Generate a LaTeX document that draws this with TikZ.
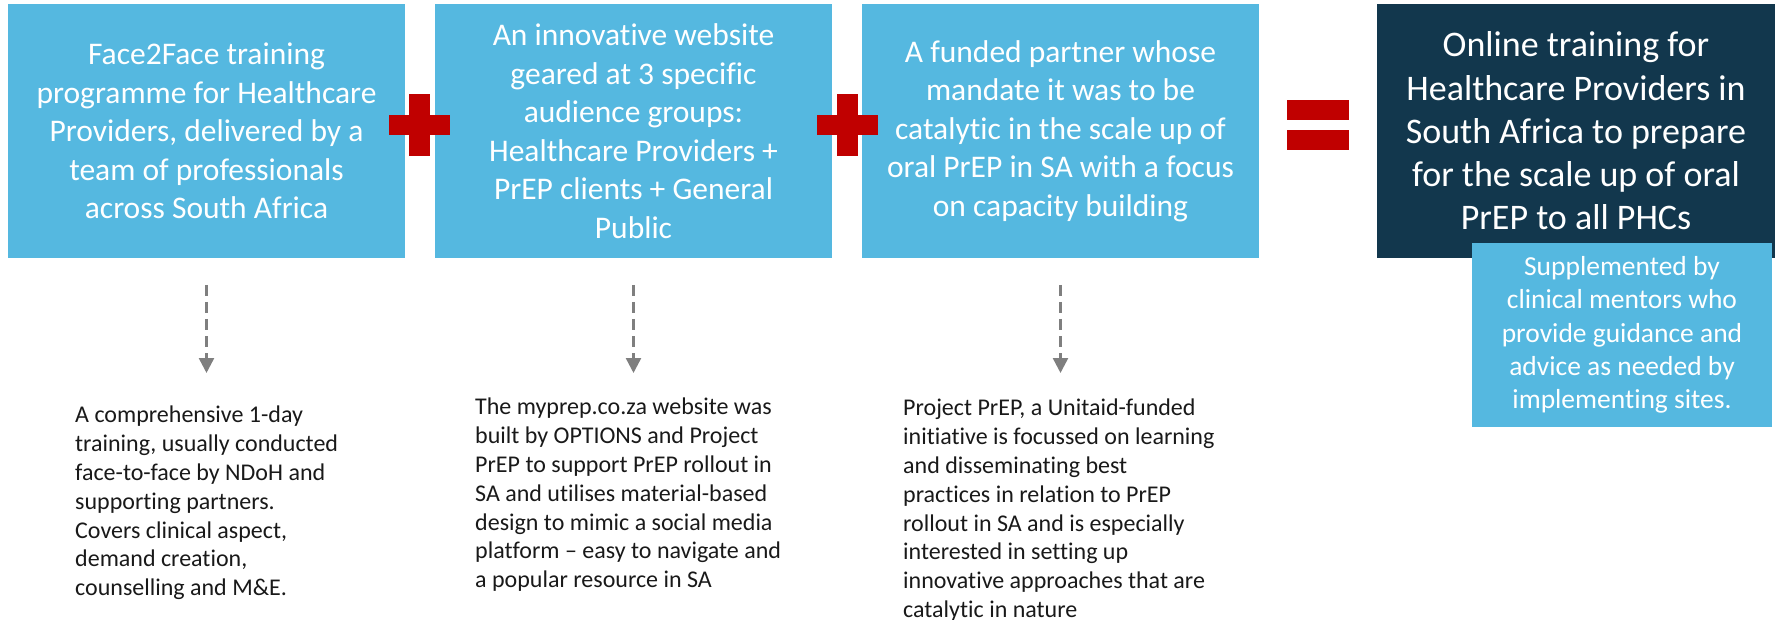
\documentclass[tikz,border=0pt]{standalone}
\usepackage{fontspec}
\setmainfont[Ligatures=NoCommon]{Carlito}
\usepackage{tikz}
\usetikzlibrary{arrows.meta}
\pgfdeclarelayer{edgelayer}
\pgfdeclarelayer{nodelayer}
\pgfsetlayers{edgelayer,nodelayer,main}
\definecolor{skyblue}{HTML}{55B8E0}
\definecolor{navy}{HTML}{12374D}
\definecolor{crossred}{HTML}{C00000}
\definecolor{arrowgrey}{HTML}{7F7F7F}
\tikzstyle{block}=[rectangle, fill=skyblue, text=white, inner sep=0, minimum width=397pt, minimum height=254pt, align=center, font=\fontsize{31.5}{38.5}\selectfont]
\tikzstyle{result}=[rectangle, fill=navy, text=white, inner sep=0, minimum width=398pt, minimum height=254pt, align=center, font=\fontsize{36}{43.3}\selectfont]
\tikzstyle{extra}=[rectangle, fill=skyblue, text=white, inner sep=0, minimum width=300pt, minimum height=184pt, align=center, font=\fontsize{27.5}{33.3}\selectfont]
\tikzstyle{note}=[anchor=north west, inner sep=0, align=left, text=black!90, font=\fontsize{24}{28.8}\selectfont]
\tikzstyle{dasharrow}=[draw=arrowgrey, line width=2.5pt, dash pattern=on 11pt off 6pt, -{Triangle[width=15pt,length=15pt]}]

\begin{document}
\begin{tikzpicture}[x=1pt, y=-1pt]
				\useasboundingbox (0,0) rectangle (1775,620);
				\begin{pgfonlayer}{nodelayer}
					\node [style=block] (0) at (206.5, 131) {Face2Face training\\programme for Healthcare\\Providers, delivered by a\\team of professionals\\across South Africa};
					\node [style=block] (1) at (633.5, 131) {An innovative website\\geared at 3 specific\\audience groups:\\Healthcare Providers +\\PrEP clients + General\\Public};
					\node [style=block] (2) at (1060.5, 131) {A funded partner whose\\mandate it was to be\\catalytic in the scale up of\\oral PrEP in SA with a focus\\on capacity building};
					\node [style=result] (3) at (1576, 131) {Online training for\\Healthcare Providers in\\South Africa to prepare\\for the scale up of oral\\PrEP to all PHCs};
					\node [style=extra] (4) at (1622, 335) {Supplemented by\\clinical mentors who\\provide guidance and\\advice as needed by\\implementing sites.};
					\node [style=note] (5) at (75, 406) {A comprehensive 1-day\\training, usually conducted\\face-to-face by NDoH and\\supporting partners.\\Covers clinical aspect,\\demand creation,\\counselling and M\&E.};
					\node [style=note] (6) at (475, 398) {The myprep.co.za website was\\built by OPTIONS and Project\\PrEP to support PrEP rollout in\\SA and utilises material-based\\design to mimic a social media\\platform – easy to navigate and\\a popular resource in SA};
					\node [style=note] (7) at (903, 399) {Project PrEP, a Unitaid-funded\\initiative is focussed on learning\\and disseminating best\\practices in relation to PrEP\\rollout in SA and is especially\\interested in setting up\\innovative approaches that are\\catalytic in nature};
				\end{pgfonlayer}
				\coordinate (8) at (206.5, 285);
				\coordinate (9) at (206.5, 373);
				\coordinate (10) at (633.5, 285);
				\coordinate (11) at (633.5, 373);
				\coordinate (12) at (1060.5, 285);
				\coordinate (13) at (1060.5, 373);
				\begin{pgfonlayer}{edgelayer}
					\draw [style=dasharrow] (8) to (9);
					\draw [style=dasharrow] (10) to (11);
					\draw [style=dasharrow] (12) to (13);
				\end{pgfonlayer}
				\foreach \cx in {419.5, 847} {
					\fill [crossred] (\cx-30.5, 115) rectangle (\cx+30.5, 135);
					\fill [crossred] (\cx-10.5, 94) rectangle (\cx+10.5, 156);
				}
				\fill [crossred] (1287, 100) rectangle (1349, 120);
				\fill [crossred] (1287, 130) rectangle (1349, 150);
			\end{tikzpicture}
\end{document}
